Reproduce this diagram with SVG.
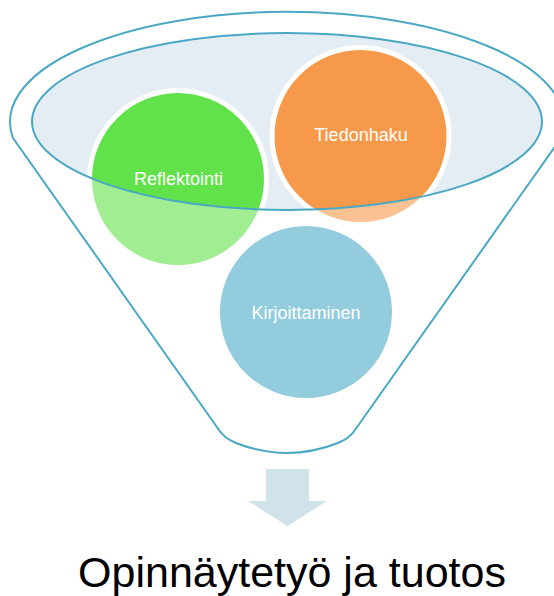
<svg xmlns="http://www.w3.org/2000/svg" width="554" height="596" viewBox="0 0 554 596">
<style>
.lbl{font-family:"Liberation Sans",Arial,sans-serif;font-size:18px;fill:#ffffff;text-anchor:middle}
.ring{stroke:#ffffff;stroke-width:5}
.line{fill:none;stroke:#4aa8c4;stroke-width:2}
</style>
<rect width="554" height="596" fill="#ffffff"/>
<g id="funnel-top">
<ellipse cx="287" cy="121.5" rx="255" ry="88.5" fill="#e4edf3"/>
</g>
<g id="node-reflektointi">
<circle class="ring" cx="178" cy="179" r="88.5" fill="#61e24a"/>
<text class="lbl" x="178.5" y="184.5">Reflektointi</text>
</g>
<g id="node-tiedonhaku">
<circle class="ring" cx="360.5" cy="136" r="88.5" fill="#f7994a"/>
<text class="lbl" x="361" y="141">Tiedonhaku</text>
</g>
<g id="node-kirjoittaminen">
<circle class="ring" cx="306" cy="312" r="88.5" fill="#4bacc6"/>
<text class="lbl" x="306" y="319">Kirjoittaminen</text>
</g>
<g id="funnel-body">
<path fill="#ffffff" fill-opacity="0.4" fill-rule="evenodd" d="M13,138 A277,110 0 1 1 561,138 L355,430 Q350,438 338,443 Q287,463 236,443 Q224,438 219,430 Z M32,121.5 A255,88.5 0 1 0 542,121.5 A255,88.5 0 1 0 32,121.5 Z"/>
</g>
<g id="connectors">
<path class="line" d="M13,138 A277,110 0 1 1 561,138 L355,430 Q350,438 338,443 Q287,463 236,443 Q224,438 219,430 Z"/>
<ellipse class="line" cx="287" cy="121.5" rx="255" ry="88.5"/>
<polygon id="arrow" points="266,469 309,469 309,501 327,501 287.5,526 248,501 266,501" fill="#d0e2ea"/>
</g>
<g id="node-result">
<text x="292" y="587" font-family="'Liberation Sans',Arial,sans-serif" font-size="43" fill="#000000" text-anchor="middle">Opinnäytetyö ja tuotos</text>
</g>
</svg>
